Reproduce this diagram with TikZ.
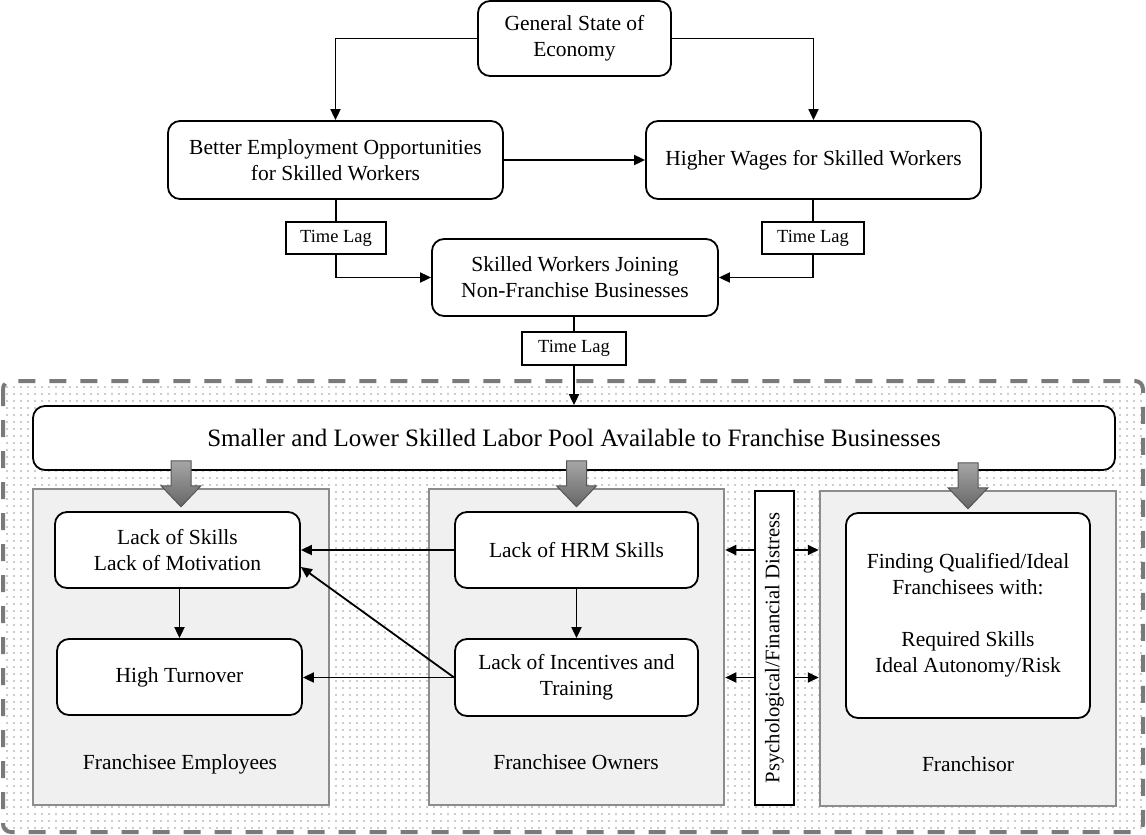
\documentclass[tikz,border=0pt]{standalone}
\usepackage{fontspec}
\setmainfont{Liberation Serif}
\usepackage{tikz}
\usetikzlibrary{positioning}
\usetikzlibrary{calc}
\usetikzlibrary{arrows.meta}
\usetikzlibrary{patterns.meta}

\definecolor{panelFill}{HTML}{F0F0F0}
\definecolor{panelLine}{HTML}{8C8C8C}
\definecolor{dashLine}{HTML}{7A7A7A}
\definecolor{dotColor}{HTML}{989898}
\definecolor{arrowTop}{HTML}{A6A6A6}
\definecolor{arrowBot}{HTML}{666666}
\definecolor{arrowEdge}{HTML}{555555}

\begin{document}
\begin{tikzpicture}[
    x=1pt, y=-1pt, % pixel units, y grows downward
    >={Triangle[length=11pt,width=10pt]}, % arrow head style
    % Styling for the nodes
    flowBox/.style={
        rectangle,
        rounded corners=12pt,
        draw,
        line width=1.8pt,
        fill=white,
        align=center,
        inner sep=0pt,
        font=\fontsize{21.5}{26}\selectfont
    },
    lagBox/.style={
        rectangle,
        draw,
        line width=1.6pt,
        fill=white,
        minimum width=102pt,
        minimum height=32pt,
        font=\fontsize{18.5}{22}\selectfont
    },
    panel/.style={
        rectangle,
        draw=panelLine,
        line width=2.5pt,
        fill=panelFill,
        minimum width=296pt,
        minimum height=316pt
    },
    panelLabel/.style={font=\fontsize{21.5}{26}\selectfont},
    edge/.style={line width=1.8pt},
    % big gray arrow, tip below the anchor point
    fatArrow/.pic={
        \draw[line width=1pt, draw=arrowEdge, top color=arrowTop, bottom color=arrowBot]
            (-10,-27) -- (10,-27) -- (10,-2) -- (20,-2) -- (0,19)
            -- (-20,-2) -- (-10,-2) -- cycle;
    }
]
    \useasboundingbox (0,0) rectangle (1146,835);

    % Dotted, dashed frame
    \draw[line width=4pt, draw=dashLine, dash pattern=on 17pt off 14pt,
          rounded corners=8pt, pattern={Dots[radius=0.9pt,distance=7pt]},
          pattern color=dotColor] (3,381) rectangle (1143,832);

    % Define Nodes
    \node[flowBox, minimum width=193pt, minimum height=75pt] (econ) at (574.5,38.5) {General State of\\Economy};
    \node[flowBox, minimum width=335pt, minimum height=78pt] (better) at (335.5,160) {Better Employment Opportunities\\for Skilled Workers};
    \node[flowBox, minimum width=335pt, minimum height=78pt] (wages) at (813.5,160) {Higher Wages for Skilled Workers};
    \node[lagBox, minimum width=100pt] (lagL) at (336,238) {Time Lag};
    \node[lagBox] (lagR) at (813,238) {Time Lag};
    \node[flowBox, minimum width=286pt, minimum height=77pt] (skilled) at (575,277.5) {Skilled Workers Joining\\Non-Franchise Businesses};
    \node[lagBox, minimum width=104pt, minimum height=33pt] (lagB) at (574,348.5) {Time Lag};
    \node[flowBox, minimum width=1082pt, minimum height=64pt,
          font=\fontsize{25}{29}\selectfont] (pool) at (574,438)
          {Smaller and Lower Skilled Labor Pool Available to Franchise Businesses};

    \node[panel] (empPanel) at (181,647) {};
    \node[panel, minimum width=295pt] (ownPanel) at (576.5,647) {};
    \node[panel, minimum height=315pt] (frPanel) at (968,648.5) {};

    \node[panelLabel] (empLabel) at (180,764) {Franchisee Employees};
    \node[panelLabel] (ownLabel) at (576,762) {Franchisee Owners};
    \node[panelLabel] (frLabel) at (968,764) {Franchisor};

    \node[flowBox, minimum width=245pt, minimum height=76pt] (skills) at (177.5,550) {Lack of Skills\\Lack of Motivation};
    \node[flowBox, minimum width=245pt, minimum height=76pt] (turnover) at (179.5,677) {High Turnover};
    \node[flowBox, minimum width=243pt, minimum height=76pt] (hrm) at (576.5,550) {Lack of HRM Skills};
    \node[flowBox, minimum width=243pt, minimum height=77pt] (inc) at (576.5,677.5) {Lack of Incentives and\\Training};
    \node[flowBox, minimum width=244pt, minimum height=205pt] (fr) at (968,615.5)
          {Finding Qualified/Ideal\\Franchisees with:\\[26pt]Required Skills\\Ideal Autonomy/Risk};

    \node[draw, line width=1.6pt, fill=white, rotate=90, minimum width=314pt,
          minimum height=39pt, inner sep=0pt,
          font=\fontsize{20.7}{24}\selectfont] (psych) at (774.5,648) {Psychological/Financial Distress};

    \coordinate (skillsIn) at ($(skills.east)+(0,17)$);

    % Big gray arrows
    \pic at (empPanel.north) {fatArrow};
    \pic at (ownPanel.north) {fatArrow};
    \pic at (frPanel.north) {fatArrow};

    % Draw Edges
    \draw[edge, ->] (econ.west) -| (better.north);
    \draw[edge, ->] (econ.east) -| (wages.north);
    \draw[edge, ->] (better) -- (wages);
    \draw[edge] (better.south -| lagL) -- (lagL.north);
    \draw[edge, ->] (lagL.south) |- (skilled.west);
    \draw[edge] (wages.south -| lagR) -- (lagR.north);
    \draw[edge, ->] (lagR.south) |- (skilled.east);
    \draw[edge] (skilled.south -| lagB) -- (lagB.north);
    \draw[edge, ->] (lagB.south) -- (pool.north -| lagB);

    \draw[edge, ->] (hrm.west) -- (hrm.west -| skills.east);
    \draw[edge, ->] (inc.west) -- (inc.west -| turnover.east);
    \draw[edge, ->] (inc.west) -- (skillsIn);
    \draw[edge, ->] (skills.south -| turnover) -- (turnover.north);
    \draw[edge, ->] (hrm.south) -- (inc.north);

    \draw[edge, ->] (hrm -| psych.north) -- (hrm -| ownPanel.east);
    \draw[edge, ->] (hrm -| psych.south) -- (hrm -| frPanel.west);
    \draw[edge, ->] (inc -| psych.north) -- (inc -| ownPanel.east);
    \draw[edge, ->] (inc -| psych.south) -- (inc -| frPanel.west);

\end{tikzpicture}
\end{document}
